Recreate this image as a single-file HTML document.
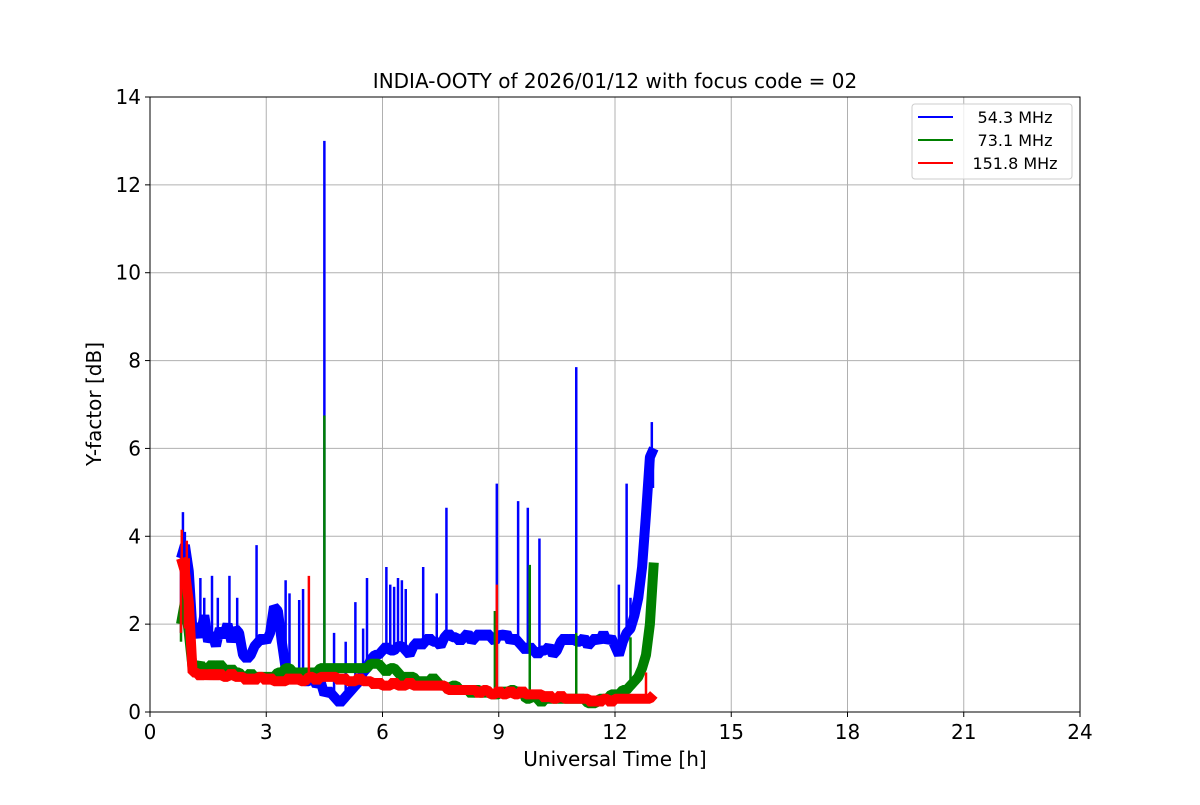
<!DOCTYPE html>
<html><head><meta charset="utf-8"><style>
body{margin:0;background:#fff}
svg text{font-family:"DejaVu Sans","Liberation Sans",sans-serif;fill:#000}
</style></head><body>
<svg id="chart" width="1200" height="800" xmlns="http://www.w3.org/2000/svg">
<rect width="1200" height="800" fill="#fff"/>
<g id="grid"></g>
<g id="series"></g>
<rect x="150" y="97" width="930" height="615" fill="none" stroke="#000" stroke-width="1"/>
<g id="ticks"></g>
<text x="615" y="88" text-anchor="middle" font-size="20">INDIA-OOTY of 2026/01/12 with focus code = 02</text>
<text x="615" y="766" text-anchor="middle" font-size="20">Universal Time [h]</text>
<text transform="translate(101,404) rotate(-90)" text-anchor="middle" font-size="20">Y-factor [dB]</text>
<g>
<rect x="912" y="104" width="160" height="75" rx="3" fill="#fff" fill-opacity="0.8" stroke="#ccc"/>
<line x1="918" y1="117" x2="953" y2="117" stroke="#0000ff" stroke-width="2"/>
<text x="1015" y="123" text-anchor="middle" font-size="16">54.3 MHz</text>
<line x1="918" y1="140" x2="953" y2="140" stroke="#008000" stroke-width="2"/>
<text x="1015" y="146" text-anchor="middle" font-size="16">73.1 MHz</text>
<line x1="918" y1="163" x2="953" y2="163" stroke="#ff0000" stroke-width="2"/>
<text x="1015" y="169" text-anchor="middle" font-size="16">151.8 MHz</text>
</g>
</svg>
<script>
const xTicks=[0,3,6,9,12,15,18,21,24];
const yTicks=[0,2,4,6,8,10,12,14];
const tStart=0.8, tStep=0.1;
const blue=[3.5,3.8,3.2, 1.8,2.0,1.7,2.2,1.6, 1.8,1.5,1.9,1.7,2.0,1.6,1.9,1.8, 1.3,1.2,1.3,1.5, 1.6,1.7,1.6,1.8, 2.4,2.3,1.6,
1.0,0.9,0.8,0.9,0.8,0.7,0.7,0.8,0.6,0.7, 0.4,0.5,0.4,0.3,0.2,0.3,0.4,0.5,0.6, 0.7,0.9,1.0,1.2,1.3,1.3,1.4,
1.5,1.4,1.4,1.5,1.5,1.4,1.3,1.5,1.6,1.5, 1.6,1.7,1.6,1.6,1.5,1.7,1.8,1.7,1.7,1.6, 1.7,1.8,1.6,1.7,1.8,1.7,1.8,1.7,1.6,1.8,
1.7,1.8,1.6,1.7,1.6,1.5,1.4,1.5,1.4,1.3, 1.4,1.4,1.5,1.3,1.4,1.6,1.7,1.6,1.7,1.6, 1.6,1.7,1.5,1.6,1.7,1.6,1.8,1.6,1.7,1.5,
1.3,1.6,1.8,1.9,2.2,2.6,3.3,4.5,5.8,6.0];
const green=[2.0,2.5,1.8, 1.0,1.0,1.1,0.9,1.0,1.1,1.0,1.1,1.0,0.9,1.0,0.9,0.9, 0.8,0.8,0.9,0.8,0.8,0.8,0.8,0.8,0.8,0.9,0.9,
1.0,1.0,0.9,0.9,0.9,0.9,0.9,0.9,0.9,1.0, 1.0,1.0,1.0,1.0,1.0,1.0,1.0,1.0,1.0,1.0,1.0,1.0,1.1,1.1,1.1,1.0,
0.9,1.0,1.0,0.9,0.8,0.8,0.8,0.8,0.7,0.7, 0.7,0.7,0.8,0.7,0.6,0.6,0.5,0.6,0.6,0.5, 0.5,0.5,0.4,0.5,0.5,0.4,0.5,0.4,0.4,0.4,
0.5,0.4,0.5,0.5,0.4,0.5,0.3,0.3,0.4,0.3, 0.2,0.3,0.3,0.3,0.3,0.3,0.3,0.3,0.3,0.3, 0.3,0.3,0.2,0.2,0.2,0.3,0.3,0.3,0.4,0.4,
0.4,0.5,0.5,0.6,0.7,0.8,1.0,1.3,2.0,3.4];
const red=[3.5,3.2,2.5, 0.9,0.9,0.8,0.9,0.8,0.9,0.8,0.9,0.8,0.8,0.9,0.8,0.8, 0.8,0.7,0.8,0.7,0.8,0.8,0.7,0.8,0.7,0.7,0.7,
0.7,0.8,0.7,0.8,0.7,0.7,0.8,0.8,0.7,0.8, 0.8,0.8,0.8,0.8,0.7,0.8,0.7,0.7,0.7,0.8,0.7,0.7,0.7,0.6,0.7,0.6,
0.6,0.6,0.7,0.6,0.6,0.6,0.7,0.6,0.6,0.6, 0.6,0.6,0.6,0.6,0.6,0.6,0.5,0.5,0.5,0.5, 0.5,0.5,0.5,0.5,0.4,0.5,0.5,0.4,0.4,0.5,
0.4,0.4,0.5,0.4,0.4,0.5,0.4,0.4,0.4,0.4, 0.4,0.3,0.4,0.3,0.3,0.4,0.3,0.3,0.3,0.3, 0.3,0.3,0.3,0.2,0.3,0.2,0.3,0.3,0.2,0.3,
0.3,0.3,0.3,0.3,0.3,0.3,0.3,0.3,0.3,0.4];
const blueSpikeT=[0.8,0.82,0.9,0.85,1.05,1.3,1.4,1.6,1.75,2.05,2.25,2.75,3.5,3.6,3.85,3.95,4.5,4.75,5.05,5.3,5.5,5.6,6.1,6.2,6.3,6.4,6.5,6.6,7.05,7.4,7.65,8.95,9.5,9.75,10.05,11.0,12.1,12.3,12.4,12.95,12.98];
const blueSpikeV=[1.8,4.0,4.1,4.55,3.5,3.05,2.6,3.1,2.6,3.1,2.6,3.8,3.0,2.7,2.55,2.8,13.0,1.8,1.6,2.5,1.9,3.05,3.3,2.9,2.85,3.05,3.0,2.8,3.3,2.7,4.65,5.2,4.8,4.65,3.95,7.85,2.9,5.2,2.6,6.6,5.1];
const greenSpikeT=[0.8,0.85,4.5,8.9,9.8,11.0,12.4];
const greenSpikeV=[1.6,3.5,6.75,2.3,3.35,1.8,1.7];
const redSpikeT=[0.8,0.82,0.9,0.95,1.0,4.1,8.95,12.8];
const redSpikeV=[1.8,4.15,1.9,3.9,3.5,3.1,2.9,0.9];

const X=t=>150+t*930/24, Y=v=>712-v*615/14;
const NS='http://www.w3.org/2000/svg';
const grid=document.getElementById('grid'), ticks=document.getElementById('ticks'), ser=document.getElementById('series');
function mk(tag,attrs,parent){const e=document.createElementNS(NS,tag);for(const k in attrs)e.setAttribute(k,attrs[k]);parent.appendChild(e);return e;}
xTicks.forEach(t=>{
  const g=mk('line',{x1:X(t),x2:X(t),y1:97,y2:712,stroke:'#b0b0b0','stroke-width':1},grid);
  
  
  mk('line',{x1:X(t),x2:X(t),y1:712,y2:717,stroke:'#000'},ticks);
  const l=mk('text',{x:X(t),y:739,'text-anchor':'middle','font-size':20},ticks);
  l.textContent=t;
  
  
});
yTicks.forEach(v=>{
  const g=mk('line',{x1:150,x2:1080,y1:Y(v),y2:Y(v),stroke:'#b0b0b0','stroke-width':1},grid);
  
  
  mk('line',{x1:145,x2:150,y1:Y(v),y2:Y(v),stroke:'#000'},ticks);
  const l=mk('text',{x:141,y:Y(v)+7,'text-anchor':'end','font-size':20},ticks);
  l.textContent=v;
  
  
});
function baseAt(arr,t){const i=Math.round((t-tStart)/tStep);return arr[Math.max(0,Math.min(arr.length-1,i))];}
function draw(arr,sT,sV,color,name){
  const g=mk('g',{},ser);
  
  
  const pts=arr.map((v,i)=>X(tStart+i*tStep).toFixed(1)+','+Y(v).toFixed(1)).join(' ');
  mk('polyline',{points:pts,fill:'none',stroke:color,'stroke-width':10,'stroke-linejoin':'bevel','stroke-linecap':'butt'},g);
  sT.forEach((t,i)=>{
    const s=mk('line',{x1:X(t),x2:X(t),y1:Y(baseAt(arr,t)),y2:Y(sV[i]),stroke:color,'stroke-width':2.5},g);
    
    
  });
}
draw(blue,blueSpikeT,blueSpikeV,'#0000ff','series-54mhz');
draw(green,greenSpikeT,greenSpikeV,'#008000','series-73mhz');
draw(red,redSpikeT,redSpikeV,'#ff0000','series-151mhz');
</script>
</body></html>
